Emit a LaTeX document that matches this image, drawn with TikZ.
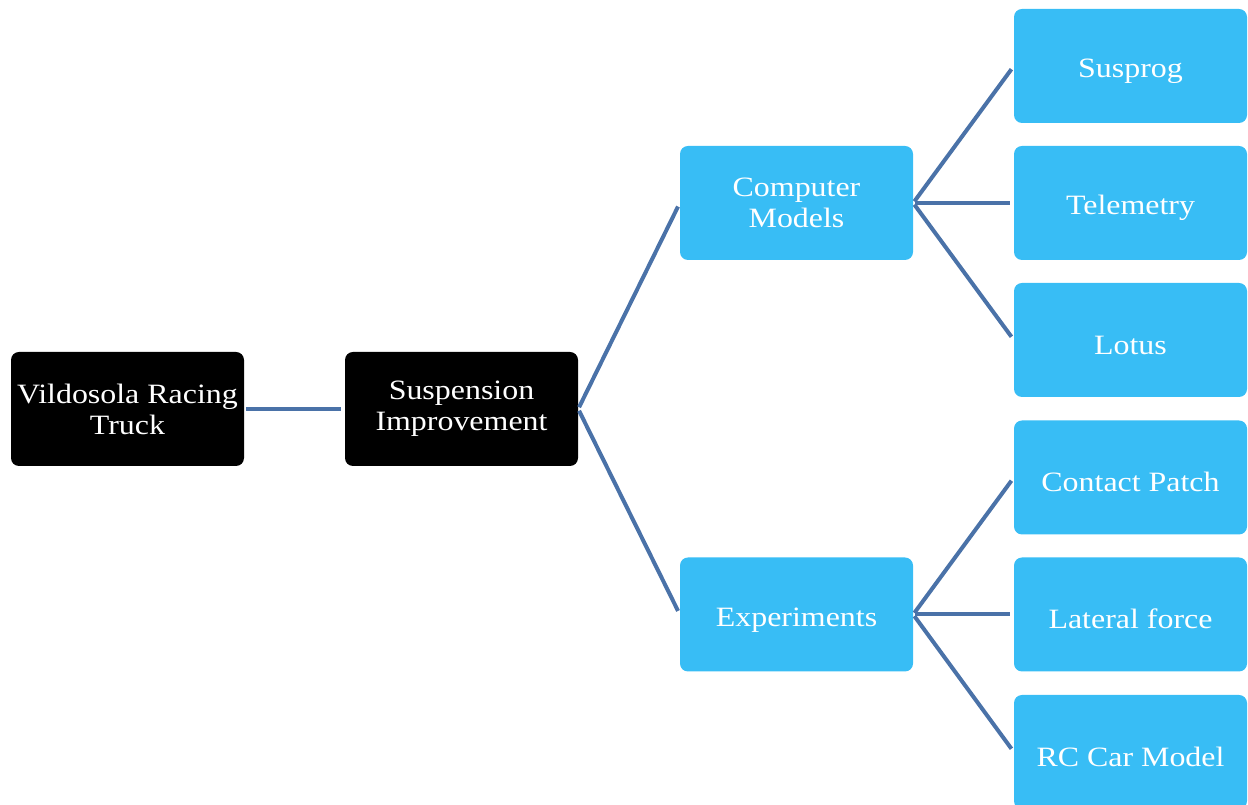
\documentclass[tikz,border=0pt]{standalone}
\usepackage{fontspec}
\setmainfont[FakeStretch=1.14]{Liberation Serif}
\definecolor{boxblue}{RGB}{56,189,245}
\definecolor{linkblue}{RGB}{74,114,168}
\begin{document}
\begin{tikzpicture}[x=1pt,y=1pt,
  base/.style={rounded corners=8pt, minimum width=233pt, minimum height=114pt, align=center, inner sep=2pt,
    font=\fontsize{28}{31}\selectfont, text=white, execute at begin node={\rule{0pt}{29pt}}},
  darkbox/.style={base, fill=black},
  bluebox/.style={base, fill=boxblue},
  link/.style={draw=linkblue, line width=4pt, shorten <=2pt, shorten >=4pt}]
\useasboundingbox (0,0) rectangle (1248,805);
\node[darkbox] (v) at (127.5,396) {Vildosola Racing\\Truck};
\node[darkbox] (s) at (461.5,396) {Suspension\\Improvement};
\node[bluebox] (cm) at (796.5,602) {Computer\\Models};
\node[bluebox] (ex) at (796.5,190.5) {Experiments};
\node[bluebox] (su) at (1130.5,739) {Susprog};
\node[bluebox] (te) at (1130.5,602) {Telemetry};
\node[bluebox] (lo) at (1130.5,465) {Lotus};
\node[bluebox] (cp) at (1130.5,327.5) {Contact Patch};
\node[bluebox] (lf) at (1130.5,190.5) {Lateral force};
\node[bluebox] (rc) at (1130.5,53) {RC Car Model};
\draw[link] (v.east) -- (s.west);
\draw[link] (s.east) -- (cm.west);
\draw[link] (s.east) -- (ex.west);
\draw[link] (cm.east) -- (su.west);
\draw[link] (cm.east) -- (te.west);
\draw[link] (cm.east) -- (lo.west);
\draw[link] (ex.east) -- (cp.west);
\draw[link] (ex.east) -- (lf.west);
\draw[link] (ex.east) -- (rc.west);
\end{tikzpicture}
\end{document}
